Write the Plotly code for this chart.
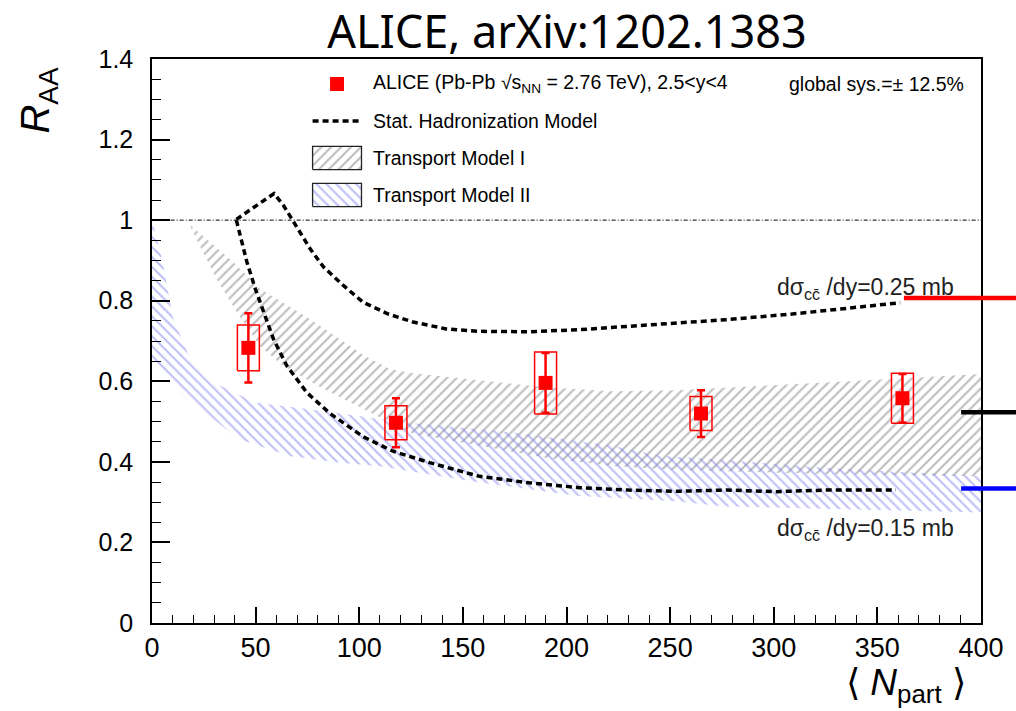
import plotly.graph_objects as go

# ---------------- data ----------------
npart = [46.5, 117.7, 189.9, 264.9, 362.1]
raa = [0.683, 0.497, 0.596, 0.520, 0.558]
stat_err = [0.086, 0.061, 0.074, 0.058, 0.060]
sys_err = [0.057, 0.042, 0.077, 0.042, 0.062]
sys_halfwidth = 5.3

shm_high_x = [40.7, 58.9, 63.4, 68.2, 76.3, 82.7, 92.3, 101.9, 114, 126, 142, 158, 182, 206, 230, 253, 277, 309, 341, 361]
shm_high_y = [1.002, 1.066, 1.037, 0.996, 0.929, 0.884, 0.838, 0.796, 0.767, 0.747, 0.730, 0.724, 0.723, 0.728, 0.736, 0.744, 0.753, 0.767, 0.784, 0.795]

shm_low_x = [40.7, 42.5, 45.8, 49.8, 53.8, 58.6, 65, 74.7, 85.9, 102, 116, 134, 158, 182, 206, 230, 253, 277, 301, 325, 359]
shm_low_y = [1.0, 0.962, 0.896, 0.830, 0.772, 0.705, 0.639, 0.572, 0.520, 0.462, 0.427, 0.398, 0.364, 0.348, 0.336, 0.330, 0.327, 0.330, 0.326, 0.330, 0.330]

tm1_up_x = [18, 39, 52, 76, 102, 115, 126, 158, 190, 222, 253, 325, 400]
tm1_up_y = [0.99, 0.897, 0.830, 0.755, 0.665, 0.63, 0.62, 0.603, 0.585, 0.575, 0.578, 0.597, 0.618]
tm1_lo_x = [18, 23, 31, 41, 52, 63, 80, 96, 112, 126, 158, 190, 222, 253, 325, 400]
tm1_lo_y = [0.99, 0.937, 0.855, 0.771, 0.688, 0.639, 0.589, 0.547, 0.505, 0.47, 0.44, 0.41, 0.39, 0.38, 0.37, 0.364]

tm2_up_x = [0, 5, 10, 18, 26.5, 50, 75, 99, 123, 174, 222, 245, 275, 325, 400]
tm2_up_y = [1.0, 0.9, 0.76, 0.66, 0.605, 0.547, 0.531, 0.514, 0.497, 0.473, 0.44, 0.415, 0.405, 0.385, 0.364]
tm2_lo_x = [0, 15, 42, 67, 91, 110, 158, 206, 253, 275, 400]
tm2_lo_y = [0.66, 0.565, 0.456, 0.414, 0.398, 0.389, 0.349, 0.315, 0.302, 0.29, 0.274]

x_ticks = [0, 50, 100, 150, 200, 250, 300, 350, 400]
y_ticks = [0, 0.2, 0.4, 0.6, 0.8, 1.0, 1.2, 1.4]
y_ticktext = ["0", "0.2", "0.4", "0.6", "0.8", "1", "1.2", "1.4"]

ref_levels = [0.807, 0.523, 0.334]
ref_colors = ["#ff0000", "#000000", "#0000ff"]
ref_starts = [0.907, 0.976, 0.976]

legend_labels = ["ALICE (Pb-Pb √s<sub>NN</sub> = 2.76 TeV), 2.5&lt;y&lt;4",
                 "Stat. Hadronization Model", "Transport Model I", "Transport Model II"]
# legend layout (fractions of the plot area)
legend_rows = [0.9557, 0.8901, 0.8245, 0.7589]
legend_sw_x = [0.1937, 0.2527]
legend_text_x = 0.2647
legend_box_half = 0.0205

FONT = "Liberation Sans, Arial, sans-serif"
GRAY_PAT = dict(shape="/", fgcolor="#7c7c7c", bgcolor="rgba(0,0,0,0)", size=7, solidity=0.3)
BLUE_PAT = dict(shape="\\", fgcolor="#8080f0", bgcolor="rgba(0,0,0,0)", size=7, solidity=0.3)

fig = go.Figure()

# Transport Model I band (gray ///)
fig.add_trace(go.Scatter(
    x=tm1_up_x + tm1_lo_x[::-1], y=tm1_up_y + tm1_lo_y[::-1],
    fill="toself", mode="lines", line=dict(width=0, color="rgba(0,0,0,0)"),
    fillcolor="rgba(0,0,0,0)", fillpattern=GRAY_PAT,
    showlegend=False, hoverinfo="skip"))

# Transport Model II band (blue \\\)
fig.add_trace(go.Scatter(
    x=tm2_up_x + tm2_lo_x[::-1], y=tm2_up_y + tm2_lo_y[::-1],
    fill="toself", mode="lines", line=dict(width=0, color="rgba(0,0,0,0)"),
    fillcolor="rgba(0,0,0,0)", fillpattern=BLUE_PAT,
    showlegend=False, hoverinfo="skip"))

# y = 1 reference line
fig.add_trace(go.Scatter(x=[9, 400], y=[1, 1], mode="lines",
                         line=dict(color="black", width=1, dash="4px,2px,1px,2px"),
                         showlegend=False, hoverinfo="skip"))

# SHM curves
fig.add_trace(go.Scatter(x=shm_high_x, y=shm_high_y, mode="lines",
                         line=dict(color="black", width=3.5, dash="6px,4px"),
                         showlegend=False))
fig.add_trace(go.Scatter(x=shm_low_x, y=shm_low_y, mode="lines",
                         line=dict(color="black", width=3.5, dash="6px,4px"),
                         showlegend=False))

# systematic boxes
bx, by = [], []
for xc, yc, s in zip(npart, raa, sys_err):
    bx += [xc - sys_halfwidth, xc + sys_halfwidth, xc + sys_halfwidth, xc - sys_halfwidth, xc - sys_halfwidth, None]
    by += [yc - s, yc - s, yc + s, yc + s, yc - s, None]
fig.add_trace(go.Scatter(x=bx, y=by, mode="lines", line=dict(color="#ff0000", width=1.5),
                         showlegend=False, hoverinfo="skip"))

# data points with statistical errors
fig.add_trace(go.Scatter(
    x=npart, y=raa, mode="markers",
    marker=dict(symbol="square", size=14, color="#ff0000"),
    error_y=dict(type="data", array=stat_err, color="#ff0000", thickness=2.5, width=4),
    showlegend=False))

# ---------- legend drawn on an overlay axis spanning the plot area ----------
xs0, xs1 = legend_sw_x
xm = (xs0 + xs1) / 2
fig.add_trace(go.Scatter(x=[xm], y=[legend_rows[0]], mode="markers", xaxis="x2", yaxis="y2",
                         marker=dict(symbol="square", size=14, color="#ff0000"),
                         showlegend=False, hoverinfo="skip"))
fig.add_trace(go.Scatter(x=[xs0, xs1], y=[legend_rows[1]] * 2, mode="lines", xaxis="x2", yaxis="y2",
                         line=dict(color="black", width=3.5, dash="6px,4px"),
                         showlegend=False, hoverinfo="skip"))
for row, pat in zip(legend_rows[2:], [GRAY_PAT, BLUE_PAT]):
    fig.add_trace(go.Scatter(
        x=[xs0, xs1, xs1, xs0, xs0],
        y=[row - legend_box_half, row - legend_box_half, row + legend_box_half, row + legend_box_half, row - legend_box_half],
        mode="lines", fill="toself", xaxis="x2", yaxis="y2",
        line=dict(color="#222222", width=1.3), fillcolor="rgba(0,0,0,0)", fillpattern=pat,
        showlegend=False, hoverinfo="skip"))

# coloured reference bars on the right
for lvl, col, x0 in zip(ref_levels, ref_colors, ref_starts):
    fig.add_shape(type="line", xref="paper", yref="y", x0=x0, x1=1.05, y0=lvl, y1=lvl,
                  line=dict(color=col, width=4.5), layer="above")

annotations = []
for lab, row in zip(legend_labels, legend_rows):
    annotations.append(dict(text=lab, x=legend_text_x, y=row, xref="paper", yref="paper",
                            xanchor="left", yanchor="middle", showarrow=False,
                            font=dict(size=19.5, family=FONT, color="black")))
annotations += [
    dict(text="global sys.=± 12.5%", x=0.982, y=legend_rows[0], xref="paper", yref="paper",
         xanchor="right", yanchor="middle", showarrow=False, font=dict(size=19.5, family=FONT, color="black")),
    dict(text="dσ<sub>cc̄</sub> /dy=0.25 mb", x=0.752, y=0.83, xref="paper", yref="y",
         xanchor="left", yanchor="middle", showarrow=False, font=dict(size=23, family=FONT, color="#222")),
    dict(text="dσ<sub>cc̄</sub> /dy=0.15 mb", x=0.752, y=0.232, xref="paper", yref="y",
         xanchor="left", yanchor="middle", showarrow=False, font=dict(size=23, family=FONT, color="#222")),
    dict(text="<i>R</i><sub>AA</sub>", x=-0.137, y=0.927, xref="paper", yref="paper", textangle=-90,
         xanchor="center", yanchor="middle", showarrow=False, font=dict(size=40, family=FONT, color="black")),
    dict(text="⟨ <i>N</i><sub>part</sub> ⟩", x=0.91, y=-0.11, xref="paper", yref="paper",
         xanchor="center", yanchor="middle", showarrow=False, font=dict(size=37, family=FONT, color="black")),
]

fig.update_layout(
    width=1016, height=711,
    margin=dict(l=152, r=33, t=59, b=88),
    paper_bgcolor="white", plot_bgcolor="white",
    title=dict(text="ALICE, arXiv:1202.1383", x=0.558, xanchor="center", y=0.955, yanchor="middle",
               font=dict(size=45, family="Noto Sans, sans-serif", color="black")),
    xaxis=dict(range=[0, 400], tickmode="array", tickvals=x_ticks, ticks="inside", ticklen=16,
               tickwidth=1.5, tickcolor="black", showline=True, linecolor="black", linewidth=1.5,
               mirror=True, showgrid=False, zeroline=False,
               tickfont=dict(size=27, family=FONT, color="black"),
               minor=dict(ticks="inside", ticklen=8, tickwidth=1.2, tickcolor="black", dtick=10, tick0=0, showgrid=False)),
    yaxis=dict(range=[0, 1.4], tickmode="array", tickvals=y_ticks, ticktext=y_ticktext, ticks="inside", ticklen=18,
               tickwidth=1.5, tickcolor="black", showline=True, linecolor="black", linewidth=1.5,
               mirror=True, showgrid=False, zeroline=False, ticklabelstandoff=12,
               tickfont=dict(size=25, family=FONT, color="black"),
               minor=dict(ticks="inside", ticklen=9, tickwidth=1.2, tickcolor="black", dtick=0.05, tick0=0, showgrid=False)),
    xaxis2=dict(overlaying="x", range=[0, 1], visible=False, fixedrange=True),
    yaxis2=dict(overlaying="y", range=[0, 1], visible=False, fixedrange=True),
    annotations=annotations,
    showlegend=False,
)

fig.write_html("out.html")
